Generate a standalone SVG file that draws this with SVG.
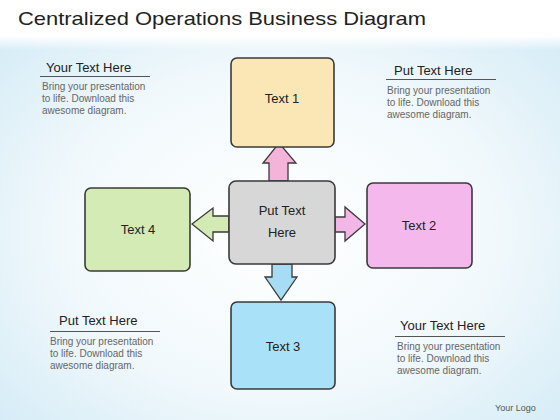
<svg xmlns="http://www.w3.org/2000/svg" width="560" height="420" viewBox="0 0 560 420">
<defs>
<radialGradient id="bg" cx="0.5" cy="0.55" r="0.75">
<stop offset="0" stop-color="#ffffff"/>
<stop offset="0.5" stop-color="#f2f9fc"/>
<stop offset="1" stop-color="#cfe9f5"/>
</radialGradient>
<linearGradient id="topfade" x1="0" y1="0" x2="0" y2="1">
<stop offset="0" stop-color="#ffffff"/>
<stop offset="1" stop-color="#ffffff" stop-opacity="0"/>
</linearGradient>
<style>
.box{stroke:#3a3a3a;stroke-width:1.6;}
.arr{stroke:#3a3a3a;stroke-width:1.3;stroke-linejoin:miter;}
.lbl{font-family:"Liberation Sans",Arial,sans-serif;font-size:13px;fill:#222;text-anchor:middle;}
.head{font-family:"Liberation Sans",Arial,sans-serif;font-size:13px;fill:#222;}
.body{font-family:"Liberation Sans",Arial,sans-serif;font-size:10px;fill:#666;}
.rule{stroke:#555;stroke-width:1;}
</style>
</defs>
<rect x="0" y="0" width="560" height="420" fill="url(#bg)"/>
<rect x="0" y="0" width="560" height="36" fill="#ffffff"/>
<rect x="0" y="36" width="560" height="14" fill="url(#topfade)"/>
<text x="18" y="25" font-family="'Liberation Sans',Arial,sans-serif" font-size="19" fill="#222" textLength="408" lengthAdjust="spacingAndGlyphs">Centralized Operations Business Diagram</text>

<g id="connectors">
<polygon class="arr" fill="#f4b3d8" points="269,181 269,163 263,163 279,143 296,163 288,163 288,181"/>
<polygon class="arr" fill="#f2b7e6" points="335,217 345,217 345,207 365,224 345,241 345,232 335,232"/>
<polygon class="arr" fill="#d3eab4" points="229,216 213,216 213,208 192,224 213,241 213,232 229,232"/>
<polygon class="arr" fill="#a7dcf5" points="272,264 272,277 265,277 281,300 297,277 292,277 292,264"/>
</g>

<g id="node-text1">
<rect class="box" x="231" y="58" width="103" height="89" rx="6" fill="#fbe6b5"/>
<text class="lbl" x="282" y="103">Text 1</text>
</g>
<g id="node-text2">
<rect class="box" x="367" y="183" width="105" height="85" rx="6" fill="#f4b8ec"/>
<text class="lbl" x="419" y="230">Text 2</text>
</g>
<g id="node-text4">
<rect class="box" x="85" y="188" width="105" height="83" rx="6" fill="#d5ebb6"/>
<text class="lbl" x="138" y="234">Text 4</text>
</g>
<g id="node-text3">
<rect class="box" x="231" y="302" width="104" height="87" rx="6" fill="#a9e2f8"/>
<text class="lbl" x="283" y="351">Text 3</text>
</g>
<g id="node-center">
<rect class="box" x="229" y="181" width="106" height="83" rx="7" fill="#d7d7d7"/>
<text class="lbl" x="282" y="215" font-size="15">Put Text</text>
<text class="lbl" x="282" y="237" font-size="15">Here</text>
</g>

<g id="note-top-left">
<text class="head" x="46" y="72">Your Text Here</text>
<line class="rule" x1="40" y1="76.5" x2="150" y2="76.5"/>
<text class="body" x="42" y="90">Bring  your presentation</text>
<text class="body" x="42" y="102">to life. Download this</text>
<text class="body" x="42" y="114">awesome diagram.</text>
</g>
<g id="note-top-right">
<text class="head" x="394" y="75">Put Text Here</text>
<line class="rule" x1="386" y1="79.5" x2="496" y2="79.5"/>
<text class="body" x="387" y="94">Bring  your presentation</text>
<text class="body" x="387" y="106">to life. Download this</text>
<text class="body" x="387" y="118">awesome diagram.</text>
</g>
<g id="note-bottom-left">
<text class="head" x="59" y="325">Put Text Here</text>
<line class="rule" x1="50" y1="331.5" x2="160" y2="331.5"/>
<text class="body" x="50" y="345">Bring  your presentation</text>
<text class="body" x="50" y="357">to life. Download this</text>
<text class="body" x="50" y="369">awesome diagram.</text>
</g>
<g id="note-bottom-right">
<text class="head" x="400" y="330">Your Text Here</text>
<line class="rule" x1="395" y1="336.5" x2="505" y2="336.5"/>
<text class="body" x="397" y="350">Bring  your presentation</text>
<text class="body" x="397" y="362">to life. Download this</text>
<text class="body" x="397" y="374">awesome diagram.</text>
</g>
<text x="495" y="411" font-family="'Liberation Sans',Arial,sans-serif" font-size="9" fill="#555">Your Logo</text>
</svg>
